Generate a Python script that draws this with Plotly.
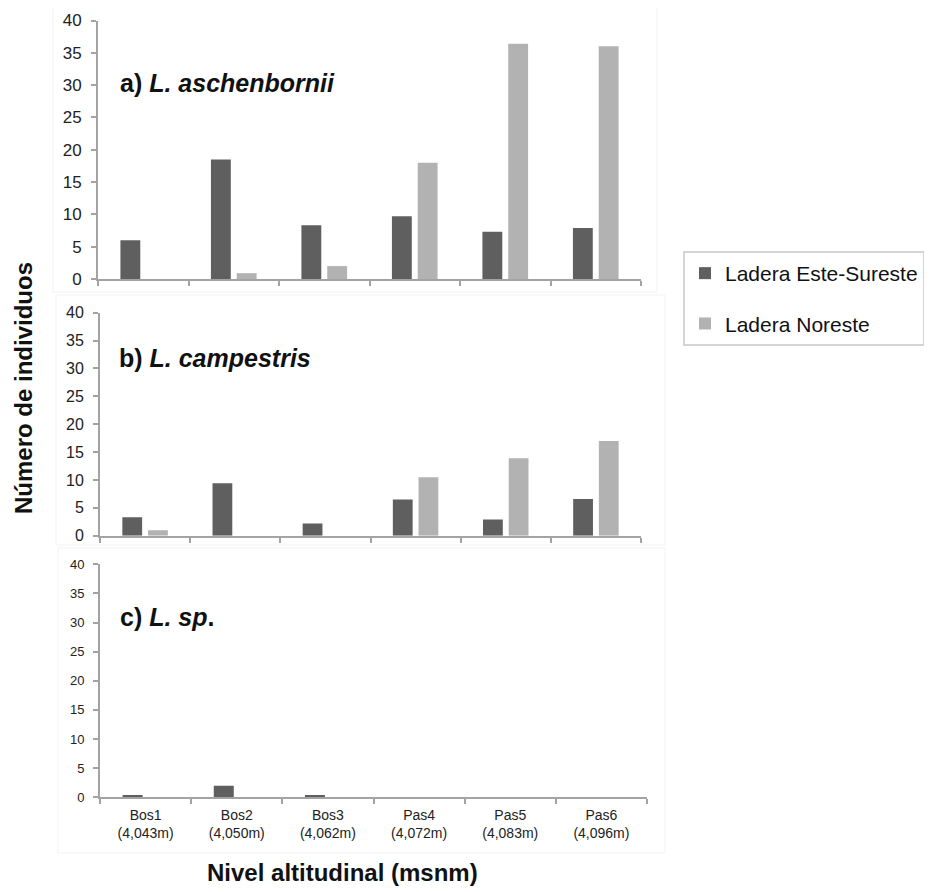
import plotly.graph_objects as go

# ---- data ----
categories = ["Bos1<br>(4,043m)", "Bos2<br>(4,050m)", "Bos3<br>(4,062m)",
              "Pas4<br>(4,072m)", "Pas5<br>(4,083m)", "Pas6<br>(4,096m)"]
series_names = ["Ladera Este-Sureste", "Ladera Noreste"]

a_este = [6.0, 18.5, 8.3, 9.7, 7.3, 7.9]
a_noreste = [0, 0.9, 2.0, 18.0, 36.4, 36.0]

b_este = [3.3, 9.4, 2.2, 6.5, 2.9, 6.6]
b_noreste = [1.0, 0, 0, 10.5, 13.9, 17.0]

c_este = [0.4, 2.0, 0.4, 0, 0, 0]
c_noreste = [0, 0, 0, 0, 0, 0]

panel_labels = ["a) <i>L. aschenbornii</i>", "b) <i>L. campestris</i>", "c) <i>L. sp</i>."]
y_ticks = [0, 5, 10, 15, 20, 25, 30, 35, 40]

# ---- style ----
W, H = 932, 892
OFF = 8  # page offset of the figure in the browser
DARK, LIGHT = "#5f5f5f", "#b2b2b2"
AXIS = "#a3a3a3"
FONT = "Liberation Sans, Arial, sans-serif"

def px_x(p):
    return (p - OFF) / W

def px_y(p):
    return 1 - (p - OFF) / H

fig = go.Figure()

panels = [
    (a_este, a_noreste, "x", "y"),
    (b_este, b_noreste, "x2", "y2"),
    (c_este, c_noreste, "x3", "y3"),
]
for i, (este, nor, xa, ya) in enumerate(panels):
    fig.add_trace(go.Bar(x=categories, y=este, name=series_names[0], xaxis=xa, yaxis=ya,
                         marker=dict(color=DARK, line=dict(width=0)),
                         showlegend=(i == 0), legendgroup="g1"))
    fig.add_trace(go.Bar(x=categories, y=nor, name=series_names[1], xaxis=xa, yaxis=ya,
                         marker=dict(color=LIGHT, line=dict(width=0)),
                         showlegend=(i == 0), legendgroup="g2"))

# domains (pixel based, reference coordinates)
x_doms = [(98, 641), (100, 641), (100, 647)]
y_doms = [(279, 20.5), (535.7, 312.7), (797.3, 564.3)]
tick_sizes = [17, 16, 13]

axis_names = [("xaxis", "yaxis"), ("xaxis2", "yaxis2"), ("xaxis3", "yaxis3")]
for i, (xn, yn) in enumerate(axis_names):
    xd = [px_x(x_doms[i][0]), px_x(x_doms[i][1])]
    yd = [px_y(y_doms[i][0]), px_y(y_doms[i][1])]
    anchor_y = "y" if i == 0 else f"y{i+1}"
    anchor_x = "x" if i == 0 else f"x{i+1}"
    fig.layout[xn] = dict(domain=xd, anchor=anchor_y, type="category",
                          range=[-0.5, 5.5], showline=True, linecolor=AXIS, linewidth=2,
                          ticks="outside", tickson="boundaries", ticklen=5, tickcolor=AXIS,
                          tickwidth=1.5, showgrid=False, zeroline=False,
                          showticklabels=(i == 2),
                          tickfont=dict(family=FONT, size=14, color="#222"),
                          ticklabelstandoff=4, fixedrange=True, automargin=False)
    fig.layout[yn] = dict(domain=yd, anchor=anchor_x, range=[0, 40],
                          tickmode="array", tickvals=y_ticks,
                          showline=True, linecolor=AXIS, linewidth=2,
                          ticks="outside", ticklen=5, tickcolor=AXIS, tickwidth=1.5,
                          showgrid=False, zeroline=False,
                          tickfont=dict(family=FONT, size=tick_sizes[i], color="#222"),
                          ticklabelstandoff=6, fixedrange=True, automargin=False)

# faint chart-area frames
frames = [(53, 2, 657, 292), (56, 295, 665, 545), (58, 548, 665, 853)]
for (x0, y0, x1, y1) in frames:
    fig.add_shape(type="rect", xref="paper", yref="paper",
                  x0=px_x(x0), x1=px_x(x1), y0=px_y(y1), y1=px_y(y0),
                  line=dict(color="#f3f3f3", width=1), layer="below")

# panel labels
label_pos = [(118, 83), (117, 358), (118, 617)]
for lab, (lx, ly) in zip(panel_labels, label_pos):
    fig.add_annotation(text=f"<b>{lab}</b>", xref="paper", yref="paper",
                       x=px_x(lx), y=px_y(ly), xanchor="left", yanchor="middle",
                       showarrow=False, font=dict(family=FONT, size=25, color="#111"))

# axis titles
fig.add_annotation(text="<b>Número de individuos</b>", xref="paper", yref="paper",
                   x=px_x(23), y=px_y(388), xanchor="center", yanchor="middle",
                   textangle=-90, showarrow=False,
                   font=dict(family=FONT, size=24, color="#111"))
fig.add_annotation(text="<b>Nivel altitudinal (msnm)</b>", xref="paper", yref="paper",
                   x=px_x(342), y=px_y(872), xanchor="center", yanchor="middle",
                   showarrow=False, font=dict(family=FONT, size=24, color="#111"))

fig.update_layout(
    width=W, height=H,
    margin=dict(l=0, r=0, t=0, b=0),
    paper_bgcolor="white", plot_bgcolor="white",
    barmode="group", bargap=0.43, bargroupgap=0.23,
    showlegend=True,
    legend=dict(x=px_x(683), y=px_y(251), xanchor="left", yanchor="top",
                bordercolor="#d4d4d4", borderwidth=2, bgcolor="white",
                font=dict(family=FONT, size=21, color="#111"),
                tracegroupgap=20, traceorder="grouped"),
)

fig.write_html("out.html")
